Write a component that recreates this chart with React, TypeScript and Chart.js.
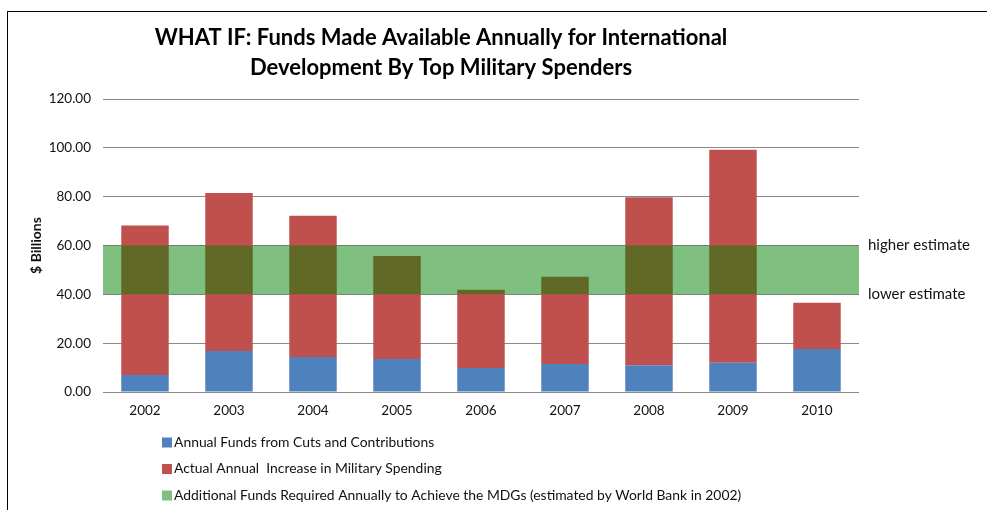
import React, { useEffect, useRef } from "react";
import { Chart, registerables } from "chart.js";

Chart.register(...registerables);

const categories = ["2002", "2003", "2004", "2005", "2006", "2007", "2008", "2009", "2010"];
const cutsContributions = [7.0, 16.8, 14.3, 13.5, 9.8, 11.5, 11.0, 12.0, 17.6];
const militaryIncrease = [61.2, 64.7, 57.9, 42.2, 32.1, 35.7, 68.8, 87.2, 19.0];
const mdgLowerEstimate = 40;
const mdgHigherEstimate = 60;
const estimateTicks = [mdgLowerEstimate, mdgHigherEstimate];
const estimateTickLabels = ["lower estimate", "higher estimate"];
const titleLines = [
  "WHAT IF: Funds Made Available Annually for International",
  "Development By Top Military Spenders",
];
const seriesLabels = [
  "Annual Funds from Cuts and Contributions",
  "Actual Annual  Increase in Military Spending",
  "Additional Funds Required Annually to Achieve the MDGs (estimated by World Bank in 2002)",
];
const yMin = 0;
const yMax = 120;
const yStep = 20;

const FONT = "Lato, 'Open Sans', sans-serif";
const TEXT = "#111111";

const titlePlugin = {
  id: "twoLineTitle",
  afterDraw(chart: any) {
    const { ctx } = chart;
    ctx.save();
    ctx.font = `bold 22px ${FONT}`;
    ctx.fillStyle = "#000";
    ctx.textAlign = "center";
    ctx.textBaseline = "middle";
    ctx.fillText(titleLines[0], 441, 38);
    ctx.fillText(titleLines[1], 441, 68);
    ctx.restore();
  },
};

const legendPlugin = {
  id: "stackedLegend",
  afterDraw(chart: any) {
    const { ctx } = chart;
    const ds = chart.data.datasets;
    const orderIdx = [1, 2, 0];
    ctx.save();
    ctx.font = `13.9px ${FONT}`;
    ctx.textBaseline = "middle";
    ctx.textAlign = "left";
    orderIdx.forEach((di, row) => {
      const y = 442.5 + row * 26.5;
      ctx.fillStyle = "#fff";
      ctx.fillRect(162, y - 5, 10, 10);
      ctx.fillStyle = ds[di].backgroundColor;
      ctx.fillRect(162, y - 5, 10, 10);
      ctx.fillStyle = TEXT;
      ctx.fillText(ds[di].label, 174, y);
    });
    ctx.restore();
  },
};

export default function App() {
  const canvasRef = useRef<HTMLCanvasElement | null>(null);

  useEffect(() => {
    document.body.style.margin = "0";
    const canvas = canvasRef.current;
    if (!canvas) return;
    const chart = new Chart(canvas, {
      type: "bar",
      data: {
        labels: categories,
        datasets: [
          {
            label: seriesLabels[2],
            data: categories.map(() => [mdgLowerEstimate, mdgHigherEstimate]) as any,
            stack: "band",
            backgroundColor: "rgba(0,128,0,0.5)",
            borderWidth: 0,
            inflateAmount: 0,
            grouped: false,
            barPercentage: 1,
            categoryPercentage: 1,
          },
          {
            label: seriesLabels[0],
            data: cutsContributions,
            backgroundColor: "#4f81bd",
            borderWidth: 0,
            grouped: false,
            barPercentage: 1,
            categoryPercentage: 0.565,
          },
          {
            label: seriesLabels[1],
            data: militaryIncrease,
            backgroundColor: "#c0504d",
            borderWidth: 0,
            grouped: false,
            barPercentage: 1,
            categoryPercentage: 0.565,
          },
        ],
      },
      options: {
        responsive: false,
        animation: false,
        devicePixelRatio: 1,
        layout: { padding: { top: 99, bottom: 88, left: 0, right: 0 } },
        plugins: {
          legend: { display: false },
          tooltip: { enabled: false },
          title: { display: false },
        },
        scales: {
          x: {
            type: "category",
            stacked: true,
            offset: true,
            grid: { display: false, drawTicks: false },
            border: { display: false },
            ticks: {
              color: TEXT,
              font: { family: FONT, size: 13.5 },
              padding: 11,
              maxRotation: 0,
            },
            afterFit: (s: any) => {
              s.height = 30;
            },
          },
          y: {
            position: "left",
            stacked: true,
            min: yMin,
            max: yMax,
            ticks: {
              stepSize: yStep,
              color: TEXT,
              font: { family: FONT, size: 13.5 },
              padding: 12,
              callback: (v: any) => Number(v).toFixed(2),
            },
            grid: { color: "#8a8a8a", lineWidth: 1, drawTicks: false },
            border: { display: false },
            title: {
              display: true,
              text: "$ Billions",
              color: TEXT,
              font: { family: FONT, size: 14, weight: "bold" },
              padding: { top: 28, bottom: 0 },
            },
            afterFit: (s: any) => {
              s.width = 103;
            },
          },
          y2: {
            position: "right",
            min: yMin,
            max: yMax,
            grid: { display: false, drawTicks: false },
            border: { display: false },
            afterBuildTicks: (s: any) => {
              s.ticks = estimateTicks.map((v) => ({ value: v }));
            },
            ticks: {
              color: TEXT,
              font: { family: FONT, size: 15 },
              padding: 9,
              autoSkip: false,
              callback: (v: any) => {
                const i = estimateTicks.indexOf(Number(v));
                return i >= 0 ? estimateTickLabels[i] : "";
              },
            },
            afterFit: (s: any) => {
              s.width = 128;
            },
          },
        },
      },
      plugins: [titlePlugin, legendPlugin],
    } as any);
    return () => chart.destroy();
  }, []);

  return (
    <div>
      <div
        style={{
          position: "fixed",
          left: 0,
          top: 0,
          width: 987,
          height: 510,
          background: "#fff",
        }}
      >
        <canvas ref={canvasRef} width={987} height={510} style={{ display: "block" }} />
      </div>
      <div
        style={{
          position: "fixed",
          left: 7,
          top: 11,
          width: 1200,
          height: 800,
          borderTop: "1px solid #000",
          borderLeft: "1px solid #000",
          pointerEvents: "none",
        }}
      />
    </div>
  );
}
